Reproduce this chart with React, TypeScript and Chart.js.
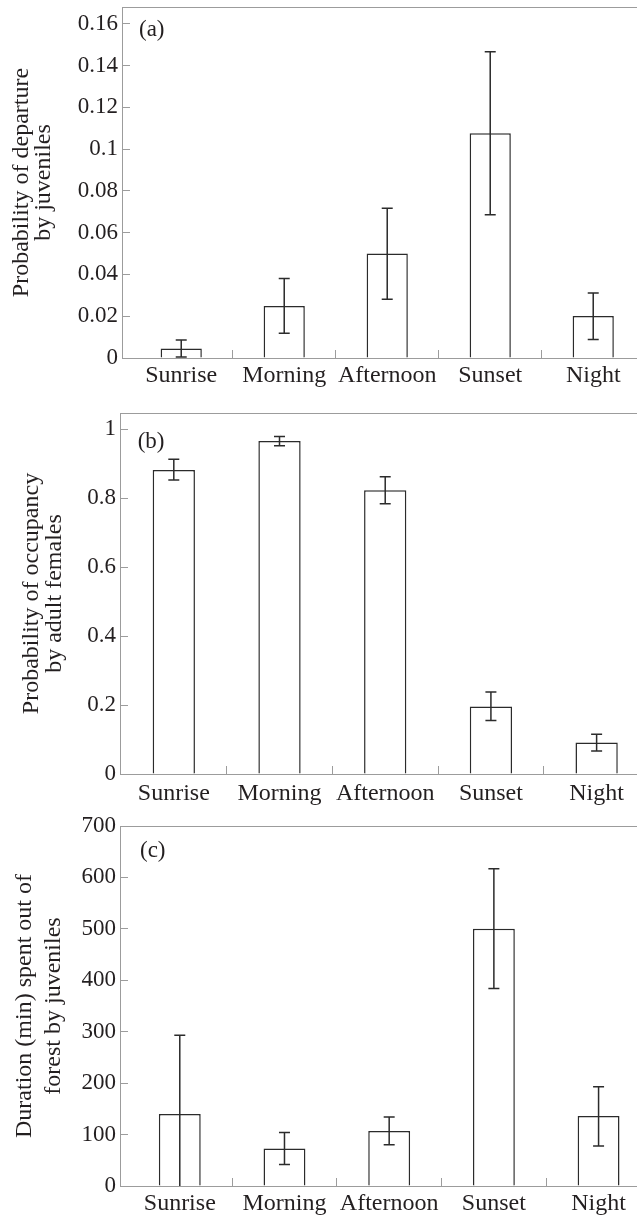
import React, { useEffect, useRef } from 'react';
import { Chart, registerables } from 'chart.js';

Chart.register(...registerables);

// ---------- data ----------
const categories = ['Sunrise', 'Morning', 'Afternoon', 'Sunset', 'Night'];
const xTickValues = [0, 0.5, 1, 1.5, 2, 2.5, 3, 3.5, 4];

const departureMean = [0.0045, 0.0249, 0.05, 0.1076, 0.0201];
const departureLow = [0.0005, 0.0118, 0.0281, 0.0686, 0.0088];
const departureHigh = [0.0086, 0.038, 0.0717, 0.1466, 0.0311];
const departureTicks = [0, 0.02, 0.04, 0.06, 0.08, 0.1, 0.12, 0.14, 0.16];
const departureTickLabels = ['0', '0.02', '0.04', '0.06', '0.08', '0.1', '0.12', '0.14', '0.16'];

const occupancyMean = [0.882, 0.966, 0.823, 0.196, 0.0915];
const occupancyLow = [0.853, 0.952, 0.784, 0.155, 0.067];
const occupancyHigh = [0.913, 0.979, 0.862, 0.238, 0.115];
const occupancyTicks = [0, 0.2, 0.4, 0.6, 0.8, 1];
const occupancyTickLabels = ['0', '0.2', '0.4', '0.6', '0.8', '1'];

const durationMean = [140, 73, 107, 500, 136];
const durationLow = [0, 42, 80, 384, 78];
const durationHigh = [293, 104, 134, 617, 193];
const durationTicks = [0, 100, 200, 300, 400, 500, 600, 700];
const durationTickLabels = ['0', '100', '200', '300', '400', '500', '600', '700'];

// ---------- styles ----------
const FONT = "'Liberation Serif', 'Times New Roman', serif";
const TEXT = '#231f20';
const AXIS = '#9c9c9c';
const INK = '#2b2b2b';

type PanelSpec = {
  letter: string;
  title: string[];
  mean: number[];
  low: number[];
  high: number[];
  yTicks: number[];
  yTickLabels: string[];
  yMax: number;
  xMin: number;
  xMax: number;
  top: number;
  height: number;
  padTop: number;
  yWidth: number;
  xHeight: number;
  titlePad: number;
  titleLine: number;
  xLabelPad: number;
  letterDx: number;
  letterDy: number;
};

const panels: PanelSpec[] = [
  {
    letter: '(a)',
    title: ['Probability of departure', 'by juveniles'],
    mean: departureMean, low: departureLow, high: departureHigh,
    yTicks: departureTicks, yTickLabels: departureTickLabels, yMax: 0.168,
    xMin: -0.575, xMax: 4.425,
    top: 0, height: 389, padTop: 7, yWidth: 122, xHeight: 31,
    titlePad: 10, titleLine: 22.5, xLabelPad: 11, letterDx: 17, letterDy: 23,
  },
  {
    letter: '(b)',
    title: ['Probability of occupancy', 'by adult females'],
    mean: occupancyMean, low: occupancyLow, high: occupancyHigh,
    yTicks: occupancyTicks, yTickLabels: occupancyTickLabels, yMax: 1.047,
    xMin: -0.509, xMax: 4.382,
    top: 389, height: 416, padTop: 24, yWidth: 120, xHeight: 31,
    titlePad: 20, titleLine: 23.3, xLabelPad: 13, letterDx: 17.7, letterDy: 29,
  },
  {
    letter: '(c)',
    title: ['Duration (min) spent out of', 'forest by juveniles'],
    mean: durationMean, low: durationLow, high: durationHigh,
    yTicks: durationTicks, yTickLabels: durationTickLabels, yMax: 700,
    xMin: -0.571, xMax: 4.367,
    top: 805, height: 410, padTop: 21, yWidth: 120, xHeight: 29,
    titlePad: 10, titleLine: 29, xLabelPad: 11.5, letterDx: 20, letterDy: 25,
  },
];

function makeErrorBars(low: number[], high: number[]) {
  return {
    id: 'errorBars',
    afterDatasetsDraw(chart: any) {
      const { ctx, scales } = chart;
      const x = scales.x;
      const y = scales.y;
      const cap = 5.5;
      ctx.save();
      ctx.strokeStyle = INK;
      ctx.lineWidth = 1.5;
      low.forEach((lo, i) => {
        const px = x.getPixelForValue(i);
        const pLo = y.getPixelForValue(lo);
        const pHi = y.getPixelForValue(high[i]);
        ctx.beginPath();
        ctx.moveTo(px, pLo);
        ctx.lineTo(px, pHi);
        ctx.moveTo(px - cap, pHi);
        ctx.lineTo(px + cap, pHi);
        if (lo > 0) {
          ctx.moveTo(px - cap, pLo);
          ctx.lineTo(px + cap, pLo);
        }
        ctx.stroke();
      });
      ctx.restore();
    },
  };
}

function makeLetter(letter: string, dx: number, dy: number) {
  return {
    id: 'panelLetter',
    afterDraw(chart: any) {
      const { ctx, chartArea } = chart;
      ctx.save();
      ctx.font = `23px ${FONT}`;
      ctx.fillStyle = TEXT;
      ctx.textAlign = 'left';
      ctx.textBaseline = 'middle';
      ctx.fillText(letter, chartArea.left + dx, chartArea.top + dy);
      ctx.restore();
    },
  };
}

function Panel({ spec }: { spec: PanelSpec }) {
  const ref = useRef<HTMLCanvasElement>(null);
  useEffect(() => {
    if (!ref.current) return;
    const chart = new Chart(ref.current, {
      type: 'bar',
      data: {
        datasets: [
          {
            data: categories.map((_, i) => ({ x: i, y: spec.mean[i] })),
            backgroundColor: '#ffffff',
            borderColor: INK,
            borderWidth: 1.5,
            barPercentage: 0.8,
            categoryPercentage: 1,
          },
        ],
      },
      options: {
        animation: false,
        responsive: false,
        devicePixelRatio: 1,
        layout: { padding: { top: spec.padTop, left: 0, right: 0, bottom: 0 } },
        plugins: { legend: { display: false }, tooltip: { enabled: false } },
        scales: {
          x: {
            type: 'linear',
            position: 'bottom',
            min: spec.xMin,
            max: spec.xMax,
            bounds: 'data',
            offset: false,
            afterBuildTicks: (s: any) => {
              s.ticks = xTickValues.map((v) => ({ value: v }));
            },
            afterFit: (s: any) => {
              s.height = spec.xHeight;
              s.paddingLeft = 0;
              s.paddingRight = 0;
            },
            ticks: {
              autoSkip: false,
              maxRotation: 0,
              minRotation: 0,
              padding: spec.xLabelPad,
              color: TEXT,
              font: { family: FONT, size: 24 },
              callback: (v: any) => (Number.isInteger(v) ? categories[v] : ''),
            },
            grid: {
              display: true,
              drawOnChartArea: false,
              drawTicks: true,
              tickLength: -8,
              offset: false,
              lineWidth: 1,
              color: (c: any) =>
                c.tick && Number.isInteger(c.tick.value) ? 'rgba(0,0,0,0)' : AXIS,
            },
            border: { display: true, color: AXIS, width: 1 },
          },
          xTop: {
            type: 'linear',
            position: 'top',
            min: spec.xMin,
            max: spec.xMax,
            ticks: { display: false },
            grid: { display: false, drawTicks: false },
            border: { display: true, color: AXIS, width: 1 },
            afterFit: (s: any) => {
              s.height = 0;
            },
          },
          y: {
            min: 0,
            max: spec.yMax,
            bounds: 'data',
            afterBuildTicks: (s: any) => {
              s.ticks = spec.yTicks.map((v) => ({ value: v }));
            },
            afterFit: (s: any) => {
              s.width = spec.yWidth;
              s.paddingTop = 0;
              s.paddingBottom = 0;
            },
            ticks: {
              autoSkip: false,
              padding: 12,
              color: TEXT,
              font: { family: FONT, size: 23 },
              callback: (_v: any, i: number) => spec.yTickLabels[i],
            },
            grid: {
              drawOnChartArea: false,
              drawTicks: true,
              tickLength: -8,
              color: AXIS,
              lineWidth: 1,
            },
            border: { display: true, color: AXIS, width: 1 },
            title: {
              display: true,
              text: spec.title,
              color: TEXT,
              font: { family: FONT, size: 24, lineHeight: `${spec.titleLine}px` },
              padding: { top: spec.titlePad, bottom: 0 },
            },
          },
        },
      } as any,
      plugins: [makeErrorBars(spec.low, spec.high), makeLetter(spec.letter, spec.letterDx, spec.letterDy)],
    });
    return () => chart.destroy();
  }, [spec]);
  return (
    <canvas
      ref={ref}
      width={637}
      height={spec.height}
      style={{ position: 'absolute', left: 0, top: spec.top, width: 637, height: spec.height, display: 'block' }}
    />
  );
}

export default function App() {
  return (
    <div
      style={{
        position: 'absolute',
        left: 0,
        top: 0,
        width: 637,
        height: 1215,
        overflow: 'hidden',
        background: '#ffffff',
      }}
    >
      {panels.map((p) => (
        <Panel key={p.letter} spec={p} />
      ))}
    </div>
  );
}
